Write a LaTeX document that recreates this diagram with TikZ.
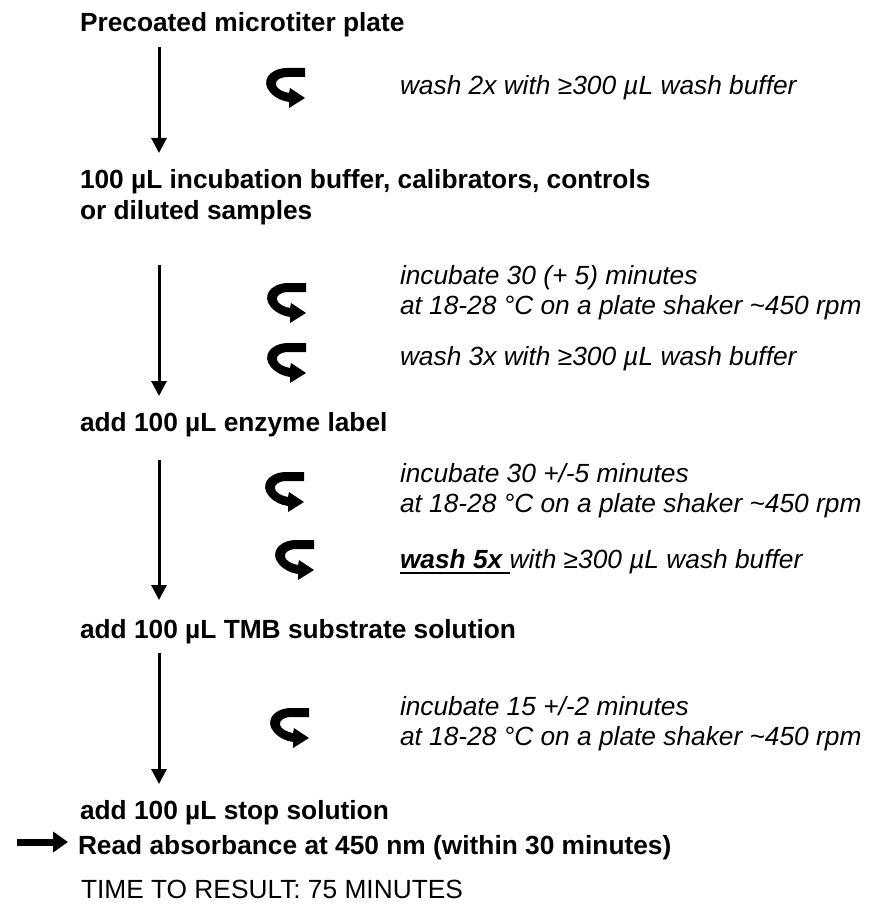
\documentclass[tikz,border=0pt]{standalone}
\usepackage{fontspec}
\setmainfont{Liberation Sans}
\usetikzlibrary{arrows.meta}
\tikzset{
  curlpic/.pic={
    \fill[black] (41,0) -- (22,0) .. controls (4,1) and (-3,14) .. (6,24)
      .. controls (11,30) and (18,33) .. (25,34) -- (25,40) -- (41,30) -- (26,20) -- (25,25)
      .. controls (19,24) and (13,21) .. (12,17) .. controls (11,12) and (16,9) .. (24,9)
      -- (41,9) -- cycle;
  }
}
\begin{document}
\begin{tikzpicture}[x=1pt,y=-1pt,
  every node/.style={inner sep=0pt, outer sep=0pt},
  stepbox/.style={anchor=base west, font=\fontsize{26.3}{30}\selectfont\bfseries},
  note/.style={anchor=base west, font=\fontsize{26.3}{30}\selectfont\itshape},
  plain/.style={anchor=base west, font=\fontsize{26.3}{30}\selectfont},
  flow/.style={line width=3pt, -{Triangle[width=15pt,length=15pt]}},
  bigarrow/.style={line width=7pt, -{Triangle[width=20pt,length=15pt]}}]
\useasboundingbox (0,0) rectangle (875,909);

% steps
\node[stepbox] (s1) at (80,32) {Precoated microtiter plate};
\node[stepbox] (s2a) at (80,189) {100 µL incubation buffer, calibrators, controls};
\node[stepbox] (s2b) at (80,220) {or diluted samples};
\node[stepbox] (s3) at (80,431) {add 100 µL enzyme label};
\node[stepbox] (s4) at (80,638) {add 100 µL TMB substrate solution};
\node[stepbox] (s5) at (80,819) {add 100 µL stop solution};
\node[stepbox] (s6) at (78,854) {Read absorbance at 450 nm (within 30 minutes)};
\node[plain] (s7) at (81,898) {TIME TO RESULT: 75 MINUTES};

% notes
\node[note] (n1) at (400,95) {wash 2x with ≥300 µL wash buffer};
\node[note] (n2a) at (400,284) {incubate 30 (+ 5) minutes};
\node[note] (n2b) at (400,314) {at 18-28 °C on a plate shaker \textasciitilde450 rpm};
\node[note] (n2c) at (400,365) {wash 3x with ≥300 µL wash buffer};
\node[note] (n3a) at (400,482) {incubate 30 +/-5 minutes};
\node[note] (n3b) at (400,512) {at 18-28 °C on a plate shaker \textasciitilde450 rpm};
\node[note, font=\fontsize{26.3}{30}\selectfont\bfseries\itshape] (n3c) at (400,568) {wash 5x\ \null};
\node[note] (n3d) at (n3c.base east) {with ≥300 µL wash buffer};
\draw[line width=2.6pt] ([yshift=-5pt]n3c.base west) -- ([yshift=-5pt]n3c.base east);
\node[note] (n4a) at (400,715) {incubate 15 +/-2 minutes};
\node[note] (n4b) at (400,745) {at 18-28 °C on a plate shaker \textasciitilde450 rpm};

% curls
\pic (c1) at (264,68) {curlpic};
\pic (c2) at (265,283) {curlpic};
\pic (c3) at (265,343) {curlpic};
\pic (c4) at (263,472) {curlpic};
\pic (c5) at (273,540) {curlpic};
\pic (c6) at (268,708) {curlpic};

% flow arrows
\coordinate (a1t) at (159,47);  \coordinate (a1b) at (159,153);
\coordinate (a2t) at (159,265); \coordinate (a2b) at (159,396);
\coordinate (a3t) at (159,460); \coordinate (a3b) at (159,600);
\coordinate (a4t) at (159,653); \coordinate (a4b) at (159,784);
\coordinate (rt) at (17,842);   \coordinate (rh) at (68,842);
\draw[flow] (a1t) -- (a1b);
\draw[flow] (a2t) -- (a2b);
\draw[flow] (a3t) -- (a3b);
\draw[flow] (a4t) -- (a4b);
\draw[bigarrow] (rt) -- (rh);
\end{tikzpicture}
\end{document}
